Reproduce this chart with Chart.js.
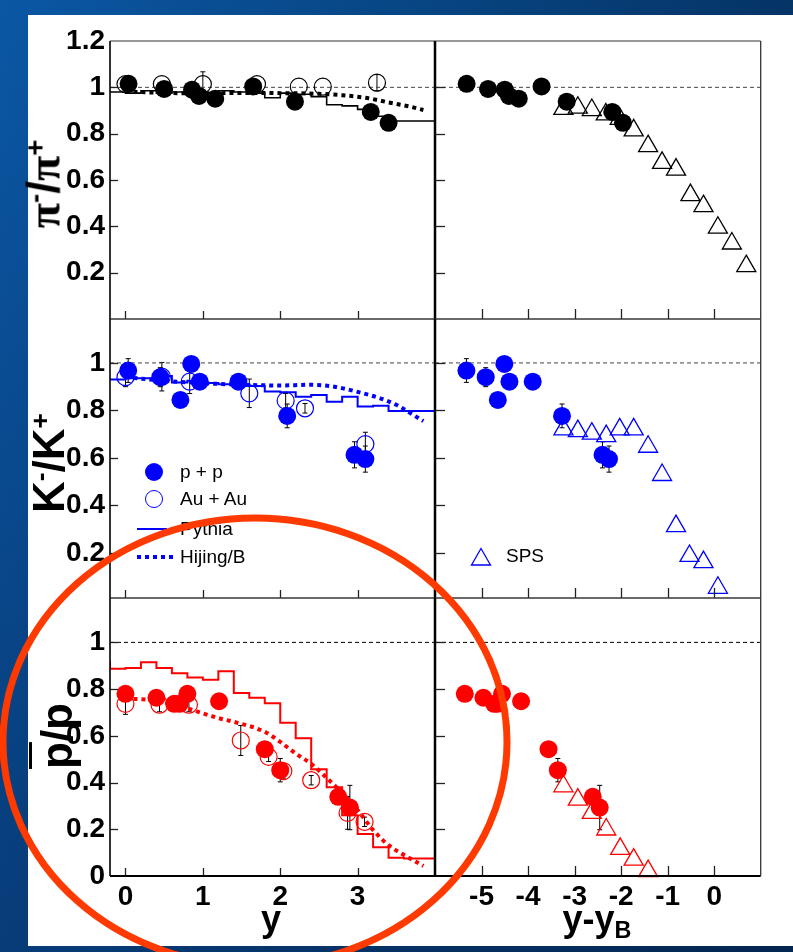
<!DOCTYPE html>
<html>
<head>
<meta charset="utf-8">
<script src="https://cdn.jsdelivr.net/npm/chart.js@4.4.1/dist/chart.umd.min.js"></script>
<style>
  body {
    margin: 0; width: 793px; height: 952px; position: relative; overflow: hidden;
    background:
      linear-gradient(180deg, rgba(0,10,40,0) 0%, rgba(0,10,40,0.35) 100%),
      linear-gradient(90deg, #0b57a4 0%, #084888 45%, #053466 100%);
    font-family: 'Liberation Sans', Arial, sans-serif;
  }
  #sheet { position: absolute; left: 28px; top: 15px; width: 765px; height: 931px; background: #fff; }
  canvas { position: absolute; }
  .ytitle {
    position: absolute; font-weight: bold; font-size: 44px; line-height: 1; white-space: nowrap;
    transform: translate(-50%, -50%) rotate(-90deg);
  }
  .ytitle sup { font-size: 0.6em; vertical-align: 0.55em; line-height: 0; }
  .gr { font-family: 'Liberation Serif', serif; }
  .xtitle {
    position: absolute; top: 901px; font-weight: bold; font-size: 36px; line-height: 36px;
    white-space: nowrap; transform: translateX(-50%);
  }
  .xtitle sub { font-size: 0.65em; vertical-align: -0.3em; line-height: 0; }
  .leg { position: absolute; font-size: 19px; line-height: 20px; white-space: nowrap; }
  .dot { position: absolute; width: 18px; height: 18px; border-radius: 50%; box-sizing: border-box; }
</style>
</head>
<body>
<div id="sheet"></div>

<script>
// rapidity of the beam, used to shift the p+p points into y - y_B
const beamRapidity = 5.36;

// ---- pi-/pi+ ----
const piPP_y = [0.04, 0.5, 0.86, 0.95, 1.16, 1.65, 2.19, 3.17, 3.4];
const piPP_r = [1.015, 0.993, 0.99, 0.963, 0.951, 1.004, 0.938, 0.894, 0.847];
const piPP_e = [0, 0, 0, 0, 0, 0, 0, 0, 0];
const piAA_y = [0, 0.47, 1.0, 1.7, 2.24, 2.55, 3.25];
const piAA_r = [1.014, 1.014, 1.014, 1.014, 1.003, 1.003, 1.02];
const piAA_e = [0, 0, 0.053, 0, 0, 0, 0.035];
const piSPS_x = [-3.24, -2.93, -2.63, -2.33, -2.03, -1.73, -1.42, -1.12, -0.82, -0.51, -0.23, 0.08, 0.38, 0.69];
const piSPS_r = [0.907, 0.912, 0.902, 0.883, 0.864, 0.814, 0.746, 0.674, 0.645, 0.535, 0.487, 0.394, 0.326, 0.228];
const piPythia = [0.985, 0.98, 0.975, 0.985, 0.975, 0.98, 0.975, 0.975, 0.985, 0.98, 0.975,
                  0.955, 0.975, 0.97, 0.96, 0.925, 0.92, 0.905, 0.875, 0.855, 0.855];
const piHijing_y = [0, 0.5, 1.0, 1.5, 2.0, 2.5, 2.8, 3.1, 3.4, 3.7, 3.85];
const piHijing_r = [0.982, 0.976, 0.974, 0.976, 0.975, 0.972, 0.966, 0.955, 0.935, 0.915, 0.902];

// ---- K-/K+ ----
const kPP_y = [0.035, 0.45, 0.71, 0.85, 0.96, 1.46, 2.09, 2.96, 3.1];
const kPP_r = [0.968, 0.94, 0.844, 0.996, 0.921, 0.921, 0.777, 0.613, 0.595];
const kPP_e = [0.05, 0.04, 0.02, 0.03, 0.03, 0.01, 0.05, 0.055, 0.055];
const kAA_y = [0, 0.47, 0.83, 1.6, 2.07, 2.32, 3.1];
const kAA_r = [0.94, 0.942, 0.921, 0.872, 0.841, 0.809, 0.658];
const kAA_e = [0.04, 0.06, 0.05, 0.06, 0.03, 0.02, 0.05];
const kSPS_x = [-3.24, -2.93, -2.63, -2.32, -2.03, -1.73, -1.42, -1.12, -0.82, -0.53, -0.23, 0.08];
const kSPS_r = [0.72, 0.713, 0.702, 0.692, 0.72, 0.72, 0.647, 0.528, 0.313, 0.187, 0.161, 0.053];
const kPythia = [0.936, 0.93, 0.935, 0.935, 0.945, 0.918, 0.925, 0.915, 0.91, 0.91, 0.903,
                 0.88, 0.876, 0.858, 0.865, 0.837, 0.858, 0.816, 0.82, 0.798, 0.798];
const kHijing_y = [0, 0.5, 1.0, 1.5, 2.0, 2.4, 2.7, 3.0, 3.3, 3.55, 3.7, 3.85];
const kHijing_r = [0.94, 0.925, 0.915, 0.908, 0.905, 0.908, 0.9, 0.878, 0.85, 0.815, 0.785, 0.755];

// ---- pbar/p ----
const pPP_y = [0, 0.4, 0.63, 0.7, 0.8, 1.21, 1.8, 2.0, 2.75, 2.9];
const pPP_r = [0.78, 0.763, 0.737, 0.737, 0.78, 0.748, 0.543, 0.453, 0.339, 0.293];
const pPP_e = [0.015, 0.02, 0.01, 0.01, 0.02, 0.01, 0.01, 0.05, 0.02, 0.095];
const pAA_y = [0, 0.44, 0.82, 1.49, 1.85, 2.04, 2.4, 2.87, 3.09];
const pAA_r = [0.737, 0.733, 0.733, 0.58, 0.51, 0.449, 0.41, 0.27, 0.232];
const pAA_e = [0.045, 0.03, 0.03, 0.064, 0.02, 0.03, 0.02, 0.07, 0.02];
const pSPS_x = [-3.24, -2.93, -2.63, -2.32, -2.02, -1.73, -1.42];
const pSPS_r = [0.384, 0.327, 0.27, 0.199, 0.116, 0.07, 0.021];
const pPythia = [0.919, 0.887, 0.89, 0.915, 0.89, 0.868, 0.85, 0.84, 0.876, 0.783, 0.763,
                 0.74, 0.656, 0.59, 0.457, 0.38, 0.26, 0.18, 0.123, 0.078, 0.075];
const pHijing_y = [0, 0.4, 0.8, 1.2, 1.4, 1.8, 2.0, 2.2, 2.4, 2.6, 2.8, 3.0, 3.2, 3.4, 3.6, 3.85];
const pHijing_r = [0.76, 0.75, 0.717, 0.676, 0.66, 0.617, 0.574, 0.524, 0.48, 0.42, 0.355, 0.282, 0.197, 0.132, 0.09, 0.043];

// Pythia histogram bin edges (rapidity)
const pythiaEdges = [-0.2, 0, 0.2, 0.4, 0.6, 0.8, 1.0, 1.2, 1.4, 1.6, 1.8, 2.0,
                     2.2, 2.4, 2.6, 2.8, 3.0, 3.2, 3.4, 3.6, 3.8, 4.0];

const yTicks = [0, 0.2, 0.4, 0.6, 0.8, 1, 1.2];
const yTicksMid = [0.2, 0.4, 0.6, 0.8, 1];
const xTicksY = [0, 1, 2, 3];
const xTicksYB = [-5, -4, -3, -2, -1, 0];

// ---- panel geometry ----
const cols = {
  left:  { x: 110, w: 325, min: -0.2, max: 4.0, ticks: xTicksY, tickLen: 8 },
  right: { x: 435, w: 326, min: -6, max: 1, ticks: xTicksYB, tickLen: 10 }
};
const rows = {
  pi:     { y: 41,  h: 278, min: 0,    max: 1.2,   ticks: yTicks.filter(v => v > 0) },
  kaon:   { y: 319, h: 279, min: 0.01, max: 1.185, ticks: yTicksMid },
  proton: { y: 598, h: 278, min: 0,    max: 1.19,  ticks: yTicks.filter(v => v < 1.2) }
};

const tickFont = { family: "'Liberation Sans', Arial, sans-serif", size: 28, weight: 'bold' };

const pts = (xs, ys) => xs.map((x, i) => ({ x, y: ys[i] }));

function filled(xs, ys, errs, color) {
  return { data: pts(xs, ys), errors: errs, pointStyle: 'circle', pointRadius: 9,
           backgroundColor: color, borderColor: color, borderWidth: 0, clip: false };
}
function hollow(xs, ys, errs, color) {
  return { data: pts(xs, ys), errors: errs, pointStyle: 'circle', pointRadius: 8.5,
           backgroundColor: 'rgba(0,0,0,0)', borderColor: color, borderWidth: 1.2, clip: false };
}
function sps(xs, ys, color) {
  return { data: pts(xs, ys), pointStyle: 'triangle', pointRadius: 11,
           backgroundColor: 'rgba(0,0,0,0)', borderColor: color, borderWidth: 1.3, clip: false };
}
function pythia(vals, color, width) {
  const data = pythiaEdges.map((x, i) => ({ x, y: vals[Math.min(i, vals.length - 1)] }));
  return { data, showLine: true, stepped: 'after', pointRadius: 0, borderColor: color, borderWidth: width };
}
function hijing(xs, ys, color) {
  return { data: pts(xs, ys), showLine: true, pointRadius: 0, borderColor: color, borderWidth: 4,
           borderDash: [4, 4], cubicInterpolationMode: 'monotone' };
}
function unity(col, color) {
  return { data: [{ x: col.min, y: 1 }, { x: col.max, y: 1 }], showLine: true, pointRadius: 0,
           borderColor: color, borderWidth: 1, borderDash: [4, 3] };
}
const shift = ys => ys.map(v => v - beamRapidity);

// frame, inward ticks and error bars
const panelFrame = {
  id: 'panelFrame',
  beforeDatasetsDraw(chart) {
    const ctx = chart.ctx, ys = chart.scales.y;
    ctx.save();
    ctx.strokeStyle = '#000';
    ctx.lineWidth = 1;
    chart.data.datasets.forEach((ds, i) => {
      if (!ds.errors) return;
      const meta = chart.getDatasetMeta(i);
      meta.data.forEach((el, j) => {
        const v = ds.data[j].y, e = ds.errors[j];
        if (!e) return;
        const y1 = ys.getPixelForValue(v + e), y2 = ys.getPixelForValue(v - e);
        ctx.beginPath();
        ctx.moveTo(el.x, y1); ctx.lineTo(el.x, y2);
        ctx.moveTo(el.x - 2.5, y1); ctx.lineTo(el.x + 2.5, y1);
        ctx.moveTo(el.x - 2.5, y2); ctx.lineTo(el.x + 2.5, y2);
        ctx.stroke();
      });
    });
    ctx.restore();
  },
  afterDraw(chart, args, opts) {
    const ctx = chart.ctx, a = chart.chartArea;
    const xs = chart.scales.x, ys = chart.scales.y;
    ctx.save();
    ctx.strokeStyle = '#222';
    ctx.lineWidth = 1.3;
    opts.xTicks.forEach(v => {
      const px = Math.round(xs.getPixelForValue(v)) + 0.5;
      ctx.beginPath(); ctx.moveTo(px, a.bottom); ctx.lineTo(px, a.bottom - opts.tickLen); ctx.stroke();
    });
    opts.yTicks.forEach(v => {
      const py = Math.round(ys.getPixelForValue(v)) + 0.5;
      ctx.beginPath(); ctx.moveTo(a.left, py); ctx.lineTo(a.left + opts.tickLen, py); ctx.stroke();
    });
    const edge = (x1, y1, x2, y2, w, c) => {
      ctx.strokeStyle = c; ctx.lineWidth = w;
      ctx.beginPath(); ctx.moveTo(x1, y1); ctx.lineTo(x2, y2); ctx.stroke();
    };
    const f = opts.edges;
    edge(a.left, a.top, a.right, a.top, f.top, '#333');
    edge(a.left, a.bottom, a.right, a.bottom, f.bottom, f.bottom > 1.5 ? '#000' : '#444');
    edge(a.left, a.top, a.left, a.bottom, f.left, '#000');
    edge(a.right, a.top, a.right, a.bottom, f.right, f.right > 1.5 ? '#000' : '#333');
    ctx.restore();
  }
};

// the axis boxes hold the tick labels, so they get the outer margin
const AXIS_W = 90, AXIS_H = 48;

function buildPanel(col, row, datasets, showX, showY) {
  const pad = { left: 0, right: 12, top: 22, bottom: 0 };
  const canvas = document.createElement('canvas');
  canvas.width = col.w + AXIS_W + pad.right;
  canvas.height = row.h + pad.top + AXIS_H;
  canvas.style.left = (col.x - AXIS_W) + 'px';
  canvas.style.top = (row.y - pad.top) + 'px';
  document.body.appendChild(canvas);
  const isLeft = col === cols.left, isBottom = row === rows.proton;
  new Chart(canvas, {
    type: 'scatter',
    data: { datasets },
    options: {
      responsive: false, animation: false, devicePixelRatio: 1,
      layout: { padding: pad },
      plugins: {
        legend: { display: false }, tooltip: { enabled: false },
        panelFrame: {
          xTicks: col.ticks, yTicks: row.ticks.filter(v => v > row.min && v < row.max), tickLen: col.tickLen,
          edges: { top: 1, bottom: isBottom ? 2 : 1, left: isLeft ? 1.6 : 0, right: isLeft ? 2.5 : 1.3 }
        }
      },
      scales: {
        x: {
          type: 'linear', min: col.min, max: col.max,
          afterBuildTicks: s => { s.ticks = col.ticks.map(v => ({ value: v })); },
          afterFit: s => { s.height = AXIS_H; },
          grid: { display: false, drawTicks: false }, border: { display: false },
          ticks: { display: showX, autoSkip: false, maxRotation: 0, padding: 4, font: tickFont, color: '#000',
                   callback: v => String(v) }
        },
        y: {
          type: 'linear', min: row.min, max: row.max,
          afterBuildTicks: s => { s.ticks = row.ticks.map(v => ({ value: v })); },
          afterFit: s => { s.width = AXIS_W; },
          grid: { display: false, drawTicks: false }, border: { display: false },
          ticks: { display: showY, autoSkip: false, padding: 5, font: tickFont, color: '#000',
                   callback: v => String(v) }
        }
      }
    },
    plugins: [panelFrame]
  });
}

const BLACK = '#000', BLUE = '#0000ff', RED = '#ff0000';

buildPanel(cols.left, rows.pi, [
  filled(piPP_y, piPP_r, piPP_e, BLACK),
  hollow(piAA_y, piAA_r, piAA_e, BLACK),
  hijing(piHijing_y, piHijing_r, BLACK),
  pythia(piPythia, BLACK, 1.6),
  unity(cols.left, '#444')
], false, true);
buildPanel(cols.right, rows.pi, [
  filled(shift(piPP_y), piPP_r, piPP_e, BLACK),
  sps(piSPS_x, piSPS_r, BLACK),
  unity(cols.right, '#444')
], false, false);

buildPanel(cols.left, rows.kaon, [
  filled(kPP_y, kPP_r, kPP_e, BLUE),
  hollow(kAA_y, kAA_r, kAA_e, BLUE),
  hijing(kHijing_y, kHijing_r, BLUE),
  pythia(kPythia, BLUE, 2),
  unity(cols.left, '#444')
], false, true);
buildPanel(cols.right, rows.kaon, [
  filled(shift(kPP_y), kPP_r, kPP_e, BLUE),
  sps(kSPS_x, kSPS_r, BLUE),
  unity(cols.right, '#444')
], false, false);

buildPanel(cols.left, rows.proton, [
  filled(pPP_y, pPP_r, pPP_e, RED),
  hollow(pAA_y, pAA_r, pAA_e, RED),
  hijing(pHijing_y, pHijing_r, RED),
  pythia(pPythia, RED, 2),
  unity(cols.left, '#000')
], true, true);
buildPanel(cols.right, rows.proton, [
  filled(shift(pPP_y), pPP_r, pPP_e, RED),
  sps(pSPS_x, pSPS_r, RED),
  unity(cols.right, '#000')
], true, false);
</script>

<!-- axis titles -->
<div class="ytitle" style="left:44px; top:184px; font-size:46px"><span class="gr">π</span><sup>-</sup>/<span class="gr">π</span><sup>+</sup></div>
<div class="ytitle" style="left:49px; top:463px">K<sup>-</sup>/K<sup>+</sup></div>
<div class="ytitle" style="left:57px; top:736px"><span style="text-decoration:overline; text-decoration-thickness:3px">p</span>/p</div>
<div class="xtitle" style="left:271px">y</div>
<div class="xtitle" style="left:597px">y-y<sub>B</sub></div>

<!-- legend, kaon panel -->
<div class="dot" style="left:145px; top:463px; background:#0000ff"></div>
<div class="leg" style="left:180px; top:462px">p + p</div>
<div class="dot" style="left:145px; top:490px; border:1.3px solid #0000ff"></div>
<div class="leg" style="left:180px; top:489px">Au + Au</div>
<div style="position:absolute; left:137px; top:528px; width:30px; height:2px; background:#0000ff"></div>
<div class="leg" style="left:180px; top:519px">Pythia</div>
<div style="position:absolute; left:137px; top:555px; width:36px; height:4px; background:repeating-linear-gradient(90deg, #0000ff 0 4px, transparent 4px 8px)"></div>
<div class="leg" style="left:180px; top:547px">Hijing/B</div>
<svg style="position:absolute; left:468px; top:545px" width="26" height="24">
  <polygon points="13,3.5 22.5,20 3.5,20" fill="none" stroke="#0000ff" stroke-width="1.3"/>
</svg>
<div class="leg" style="left:506px; top:546px">SPS</div>

<svg style="position:absolute; left:0; top:0" width="793" height="952">
  <ellipse cx="255" cy="742" rx="252" ry="224" fill="none" stroke="#ff3a00" stroke-width="7"/>
</svg>
</body>
</html>
